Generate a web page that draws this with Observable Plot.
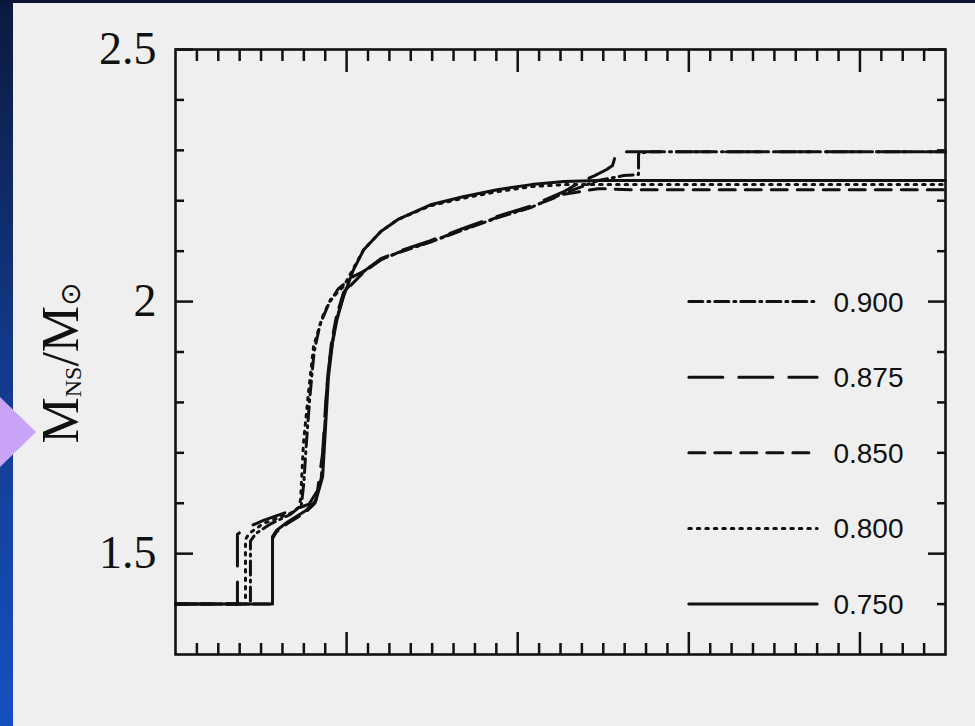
<!DOCTYPE html>
<html>
<head>
<meta charset="utf-8">
<script src="https://cdn.jsdelivr.net/npm/d3@7"></script>
<script src="https://cdn.jsdelivr.net/npm/@observablehq/plot@0.6"></script>
<style>
html,body{margin:0;padding:0;background:#efefef;width:975px;height:726px;overflow:hidden;}
#wrap{position:relative;width:975px;height:726px;}
#chart{position:absolute;left:0;top:0;}
#space{position:absolute;left:0;top:0;width:13px;height:726px;background:linear-gradient(#0b1a3e,#123a8c 50%,#1650c0);}
#topbar{position:absolute;left:0;top:0;width:975px;height:3px;background:#0b1535;}
#arrow{position:absolute;left:0;top:397px;width:36px;height:70px;background:#c9a3f7;clip-path:polygon(0 0,100% 50%,0 100%);}
</style>
</head>
<body>
<div id="wrap">
  <div id="chart"></div>
  <div id="space"></div>
  <div id="topbar"></div>
  <div id="arrow"></div>
</div>
<script>
// ---- data ----
const seriesNames = ["0.900", "0.875", "0.850", "0.800", "0.750"];

const x900 = [0, 0.438, 0.438, 0.47, 0.55, 0.672, 0.735, 0.75, 0.765, 0.785, 0.81, 0.845, 0.895, 0.95, 1.04, 1.10, 1.20, 1.30, 1.49, 1.68, 1.88, 2.08, 2.27, 2.47, 2.62, 2.706, 2.706, 2.75, 4.5];
const y900 = [1.40, 1.40, 1.525, 1.540, 1.558, 1.578, 1.595, 1.640, 1.720, 1.810, 1.900, 1.955, 1.995, 2.025, 2.050, 2.060, 2.083, 2.097, 2.118, 2.142, 2.166, 2.187, 2.215, 2.240, 2.250, 2.252, 2.292, 2.297, 2.297];

const x875 = [0, 0.362, 0.362, 0.40, 0.514, 0.672, 0.78, 0.83, 0.86, 0.878, 0.895, 0.922, 0.955, 0.99, 1.10, 1.20, 1.30, 1.49, 1.68, 1.88, 2.08, 2.27, 2.37, 2.45, 2.52, 2.554, 2.575, 2.60, 4.5];
const y875 = [1.40, 1.40, 1.538, 1.549, 1.566, 1.585, 1.598, 1.625, 1.700, 1.800, 1.870, 1.930, 1.980, 2.022, 2.060, 2.085, 2.099, 2.121, 2.145, 2.169, 2.190, 2.218, 2.238, 2.250, 2.262, 2.270, 2.294, 2.297, 2.297];

const x850 = [0, 0.567, 0.567, 0.59, 0.655, 0.76, 0.815, 0.852, 0.872, 0.889, 0.912, 0.94, 0.982, 1.10, 1.20, 1.30, 1.49, 1.68, 1.88, 2.08, 2.27, 2.47, 2.66, 4.5];
const y850 = [1.40, 1.40, 1.530, 1.543, 1.560, 1.582, 1.600, 1.650, 1.750, 1.850, 1.920, 1.970, 2.018, 2.058, 2.083, 2.097, 2.119, 2.143, 2.167, 2.188, 2.213, 2.224, 2.222, 2.222];

const x800 = [0, 0.409, 0.409, 0.43, 0.514, 0.672, 0.72, 0.731, 0.748, 0.777, 0.807, 0.859, 0.906, 0.982, 1.04, 1.10, 1.20, 1.30, 1.49, 1.68, 1.88, 2.08, 2.27, 2.47, 4.5];
const y800 = [1.40, 1.40, 1.528, 1.540, 1.560, 1.580, 1.592, 1.607, 1.720, 1.819, 1.911, 1.970, 2.004, 2.030, 2.066, 2.103, 2.139, 2.163, 2.190, 2.205, 2.218, 2.228, 2.232, 2.232, 2.232];

const x750 = [0, 0.567, 0.567, 0.59, 0.655, 0.76, 0.82, 0.86, 0.877, 0.894, 0.918, 0.947, 0.982, 1.04, 1.10, 1.20, 1.30, 1.49, 1.68, 1.88, 2.08, 2.27, 2.47, 2.66, 4.5];
const y750 = [1.40, 1.40, 1.534, 1.546, 1.563, 1.585, 1.605, 1.653, 1.752, 1.851, 1.919, 1.970, 2.010, 2.063, 2.103, 2.139, 2.163, 2.192, 2.208, 2.222, 2.232, 2.238, 2.240, 2.240, 2.240];

const yMajorTicks = [1.5, 2, 2.5];
const yMinorTicks = [1.4, 1.6, 1.7, 1.8, 1.9, 2.1, 2.2, 2.3, 2.4];
const xMajorTicks = [1, 2, 3, 4];
const xMinorTicks = d3.range(1, 36).map(i => i / 8).filter(v => !Number.isInteger(v));

// ---- styles / layout ----
const xsAll = {"0.900": x900, "0.875": x875, "0.850": x850, "0.800": x800, "0.750": x750};
const ysAll = {"0.900": y900, "0.875": y875, "0.850": y850, "0.800": y800, "0.750": y750};
const dash = {"0.900": "14,5,2,5", "0.875": "34,16", "0.850": "16,10", "0.800": "2.5,6", "0.750": null};
const legendRowY = {"0.900": 2.0, "0.875": 1.85, "0.850": 1.70, "0.800": 1.55, "0.750": 1.40};
const legendLineX = [3.0, 3.75];
const legendTextX = 3.845;

const ink = "#111";
const marks = [];

for (const s of seriesNames) {
  const pts = xsAll[s].map((x, i) => ({x, y: ysAll[s][i]}));
  marks.push(Plot.line(pts, {x: "x", y: "y", stroke: ink, strokeWidth: 3, strokeDasharray: dash[s]}));
  const lg = legendLineX.map(x => ({x, y: legendRowY[s]}));
  marks.push(Plot.line(lg, {x: "x", y: "y", stroke: ink, strokeWidth: 3, strokeDasharray: dash[s]}));
}
marks.push(Plot.text(seriesNames, {
  x: () => legendTextX, y: d => legendRowY[d], text: d => d,
  textAnchor: "start", fontSize: 28, fontFamily: "Liberation Sans, Arial, sans-serif", fill: ink, dy: 1
}));

const tk = {stroke: ink, strokeWidth: 2.5, fill: "none", label: null};
marks.push(
  Plot.frame({stroke: ink, strokeWidth: 2.6}),
  Plot.axisY(yMajorTicks, {anchor: "left", tickSize: -18, ...tk}),
  Plot.axisY(yMinorTicks, {anchor: "left", tickSize: -9, ...tk}),
  Plot.axisY(yMajorTicks, {anchor: "right", tickSize: -18, ...tk}),
  Plot.axisY(yMinorTicks, {anchor: "right", tickSize: -9, ...tk}),
  Plot.axisX(xMajorTicks, {anchor: "bottom", tickSize: -22, ...tk}),
  Plot.axisX(xMinorTicks, {anchor: "bottom", tickSize: -11, ...tk}),
  Plot.axisX(xMajorTicks, {anchor: "top", tickSize: -22, ...tk}),
  Plot.axisX(xMinorTicks, {anchor: "top", tickSize: -11, ...tk}),
  Plot.axisY(yMajorTicks, {anchor: "left", tickSize: 0, tickPadding: 19, fontSize: 46,
    fontFamily: "Liberation Serif, Times New Roman, serif", fill: ink, label: null, tickFormat: d => String(d)})
);

const chart = Plot.plot({
  width: 975, height: 726,
  marginLeft: 175, marginRight: 30, marginTop: 49, marginBottom: 72,
  x: {domain: [0, 4.5]},
  y: {domain: [1.3, 2.5]},
  style: {background: "transparent", overflow: "visible"},
  marks
});
document.getElementById("chart").appendChild(chart);

// y-axis title with subscripts
const svg = d3.select(chart);
const t = svg.append("text")
  .attr("transform", "translate(78,363) rotate(-90)")
  .attr("text-anchor", "middle")
  .attr("fill", ink)
  .attr("font-family", "Liberation Serif, Times New Roman, serif");
t.append("tspan").attr("font-size", 52).text("M");
t.append("tspan").attr("font-size", 24).attr("dy", 3).text("NS");
t.append("tspan").attr("font-size", 52).attr("dy", -3).text("/");
t.append("tspan").attr("font-size", 52).text("M");
t.append("tspan").attr("font-size", 28).attr("dy", 2).attr("font-family", "DejaVu Sans").text("\u2299");
</script>
</body>
</html>
